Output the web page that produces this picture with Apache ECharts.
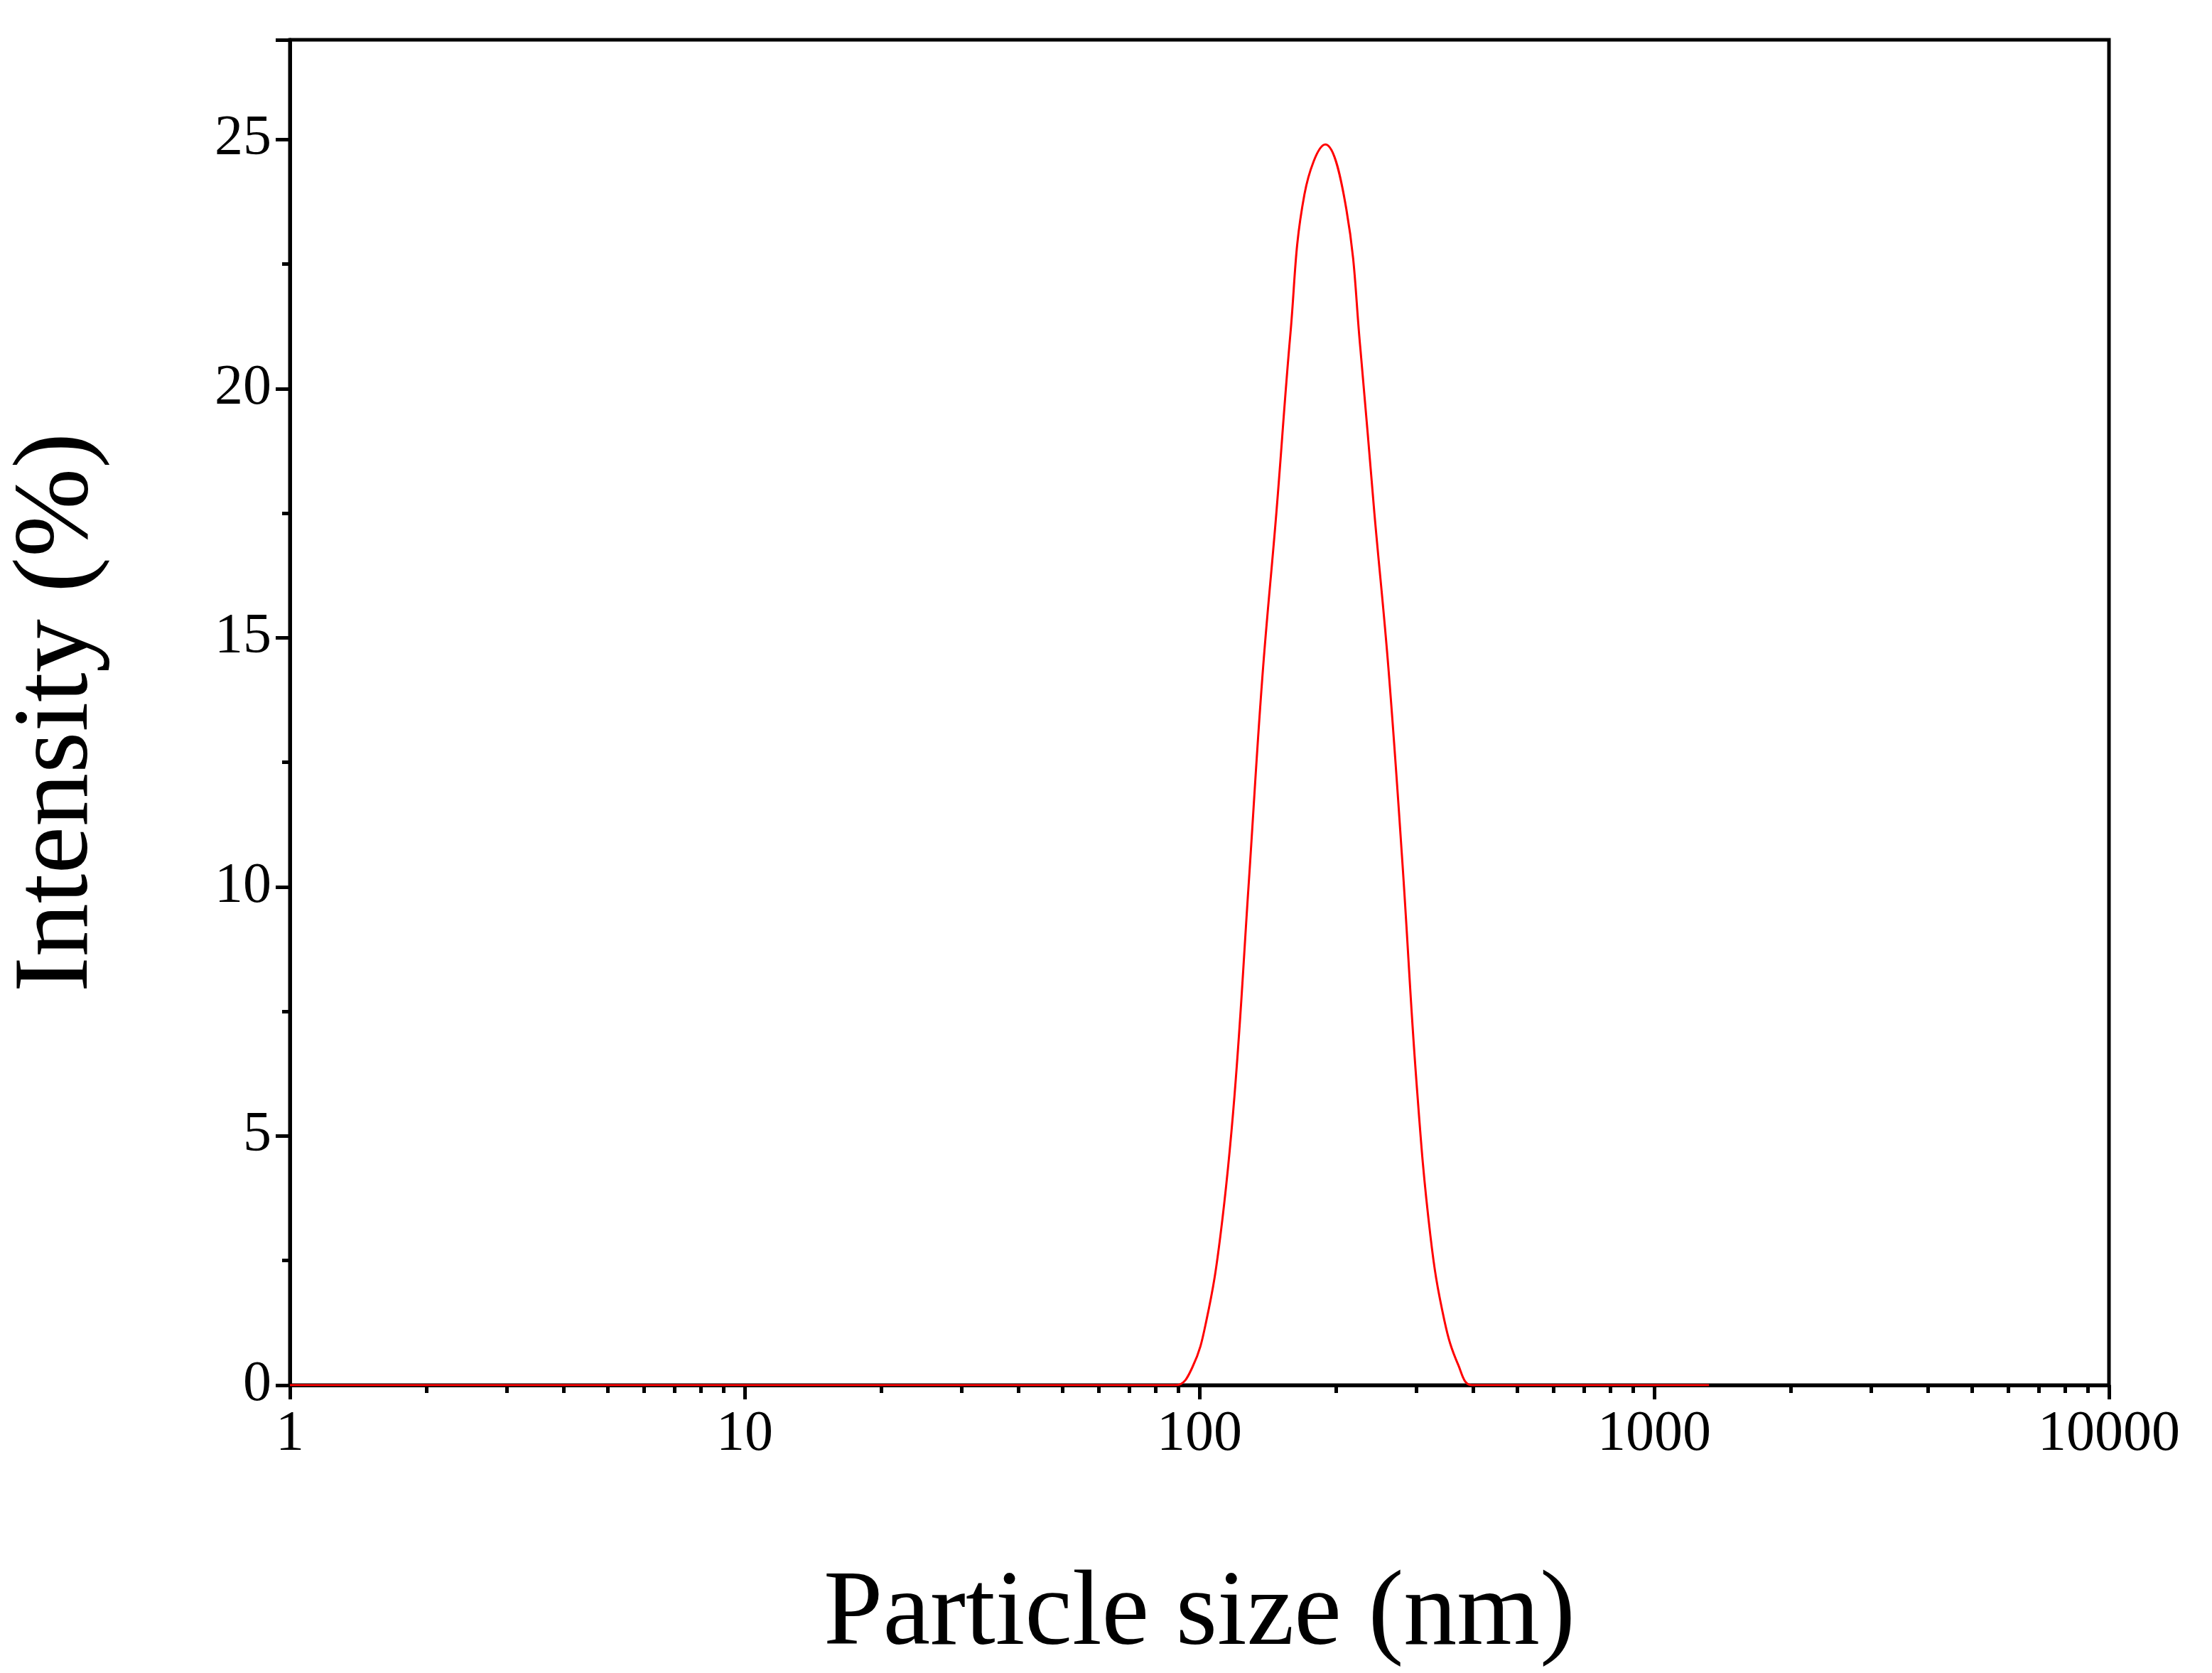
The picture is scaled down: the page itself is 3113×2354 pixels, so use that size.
<!DOCTYPE html>
<html>
<head>
  <meta charset="utf-8">
  <script src="https://cdn.jsdelivr.net/npm/echarts@6.0.0/dist/echarts.min.js"></script>
  <style>html,body{margin:0;background:#fff}</style>
</head>
<body>
  <div id="chart" style="width:3113px;height:2354px;"></div>
  <script>
    // particle size (nm) and intensity (%)
    var sizes = [1, 5, 20, 60, 88.7, 96.5, 103.6, 111.2, 119.4, 128.2, 137.5, 147.6, 158.5, 170.2, 189.2,
                 210.4, 225.9, 242.5, 260.3, 279.4, 300, 322, 345.6, 371, 398, 600, 1000, 1320];
    var intensity = [0, 0, 0, 0, 0, 0.36, 1.3, 3.0, 5.8, 10, 14.2, 17.5, 21.1, 23.9, 24.9,
                     23.6, 20.8, 17.5, 14.4, 10.5, 6.1, 3.0, 1.3, 0.4, 0, 0, 0, 0];
    var xTickLabels = ['1', '10', '100', '1000', '10000'];

    var minorLog = [];
    for (var d = 0; d < 4; d++) {
      for (var k = 2; k <= 9; k++) minorLog.push(d + Math.log10(k));
    }

    var font = 'Liberation Serif';
    var chart = echarts.init(document.getElementById('chart'));
    chart.setOption({
      animation: false,
      grid: { left: 388, right: 145, top: 56, bottom: 372, show: true, borderColor: '#000', borderWidth: 5 },
      xAxis: [{
        type: 'log', logBase: 10, min: 1, max: 10000,
        name: 'Particle size (nm)', nameLocation: 'middle', nameGap: 250,
        nameTextStyle: { fontFamily: font, fontSize: 150, color: '#000' },
        axisLine: { lineStyle: { color: '#000', width: 5 } },
        axisTick: { length: 20, lineStyle: { color: '#000', width: 5 } },
        axisLabel: {
          fontFamily: font, fontSize: 80, color: '#000', margin: 30,
          formatter: function (v) { return xTickLabels[Math.round(Math.log10(v))]; }
        },
        splitLine: { show: false }
      }, {
        type: 'value', min: 0, max: 4, position: 'bottom',
        axisLine: { show: false },
        axisTick: { show: true, customValues: minorLog, length: 11, lineStyle: { color: '#000', width: 5 } },
        axisLabel: { show: false },
        splitLine: { show: false }
      }],
      yAxis: {
        type: 'value', min: 0, max: 27, interval: 5,
        name: 'Intensity (%)', nameLocation: 'middle', nameGap: 250,
        nameTextStyle: { fontFamily: font, fontSize: 150, color: '#000' },
        axisLine: { show: true, lineStyle: { color: '#000', width: 5 } },
        axisTick: { length: 20, lineStyle: { color: '#000', width: 5 } },
        minorTick: { show: true, splitNumber: 2, length: 11, lineStyle: { color: '#000', width: 5 } },
        axisLabel: { fontFamily: font, fontSize: 80, color: '#000', margin: 26, showMaxLabel: false },
        splitLine: { show: false }
      },
      series: [{
        type: 'line', smooth: 0.4, showSymbol: false,
        lineStyle: { color: '#ff0000', width: 3 },
        data: sizes.map(function (s, i) { return [s, intensity[i]]; })
      }]
    });
  </script>
</body>
</html>
